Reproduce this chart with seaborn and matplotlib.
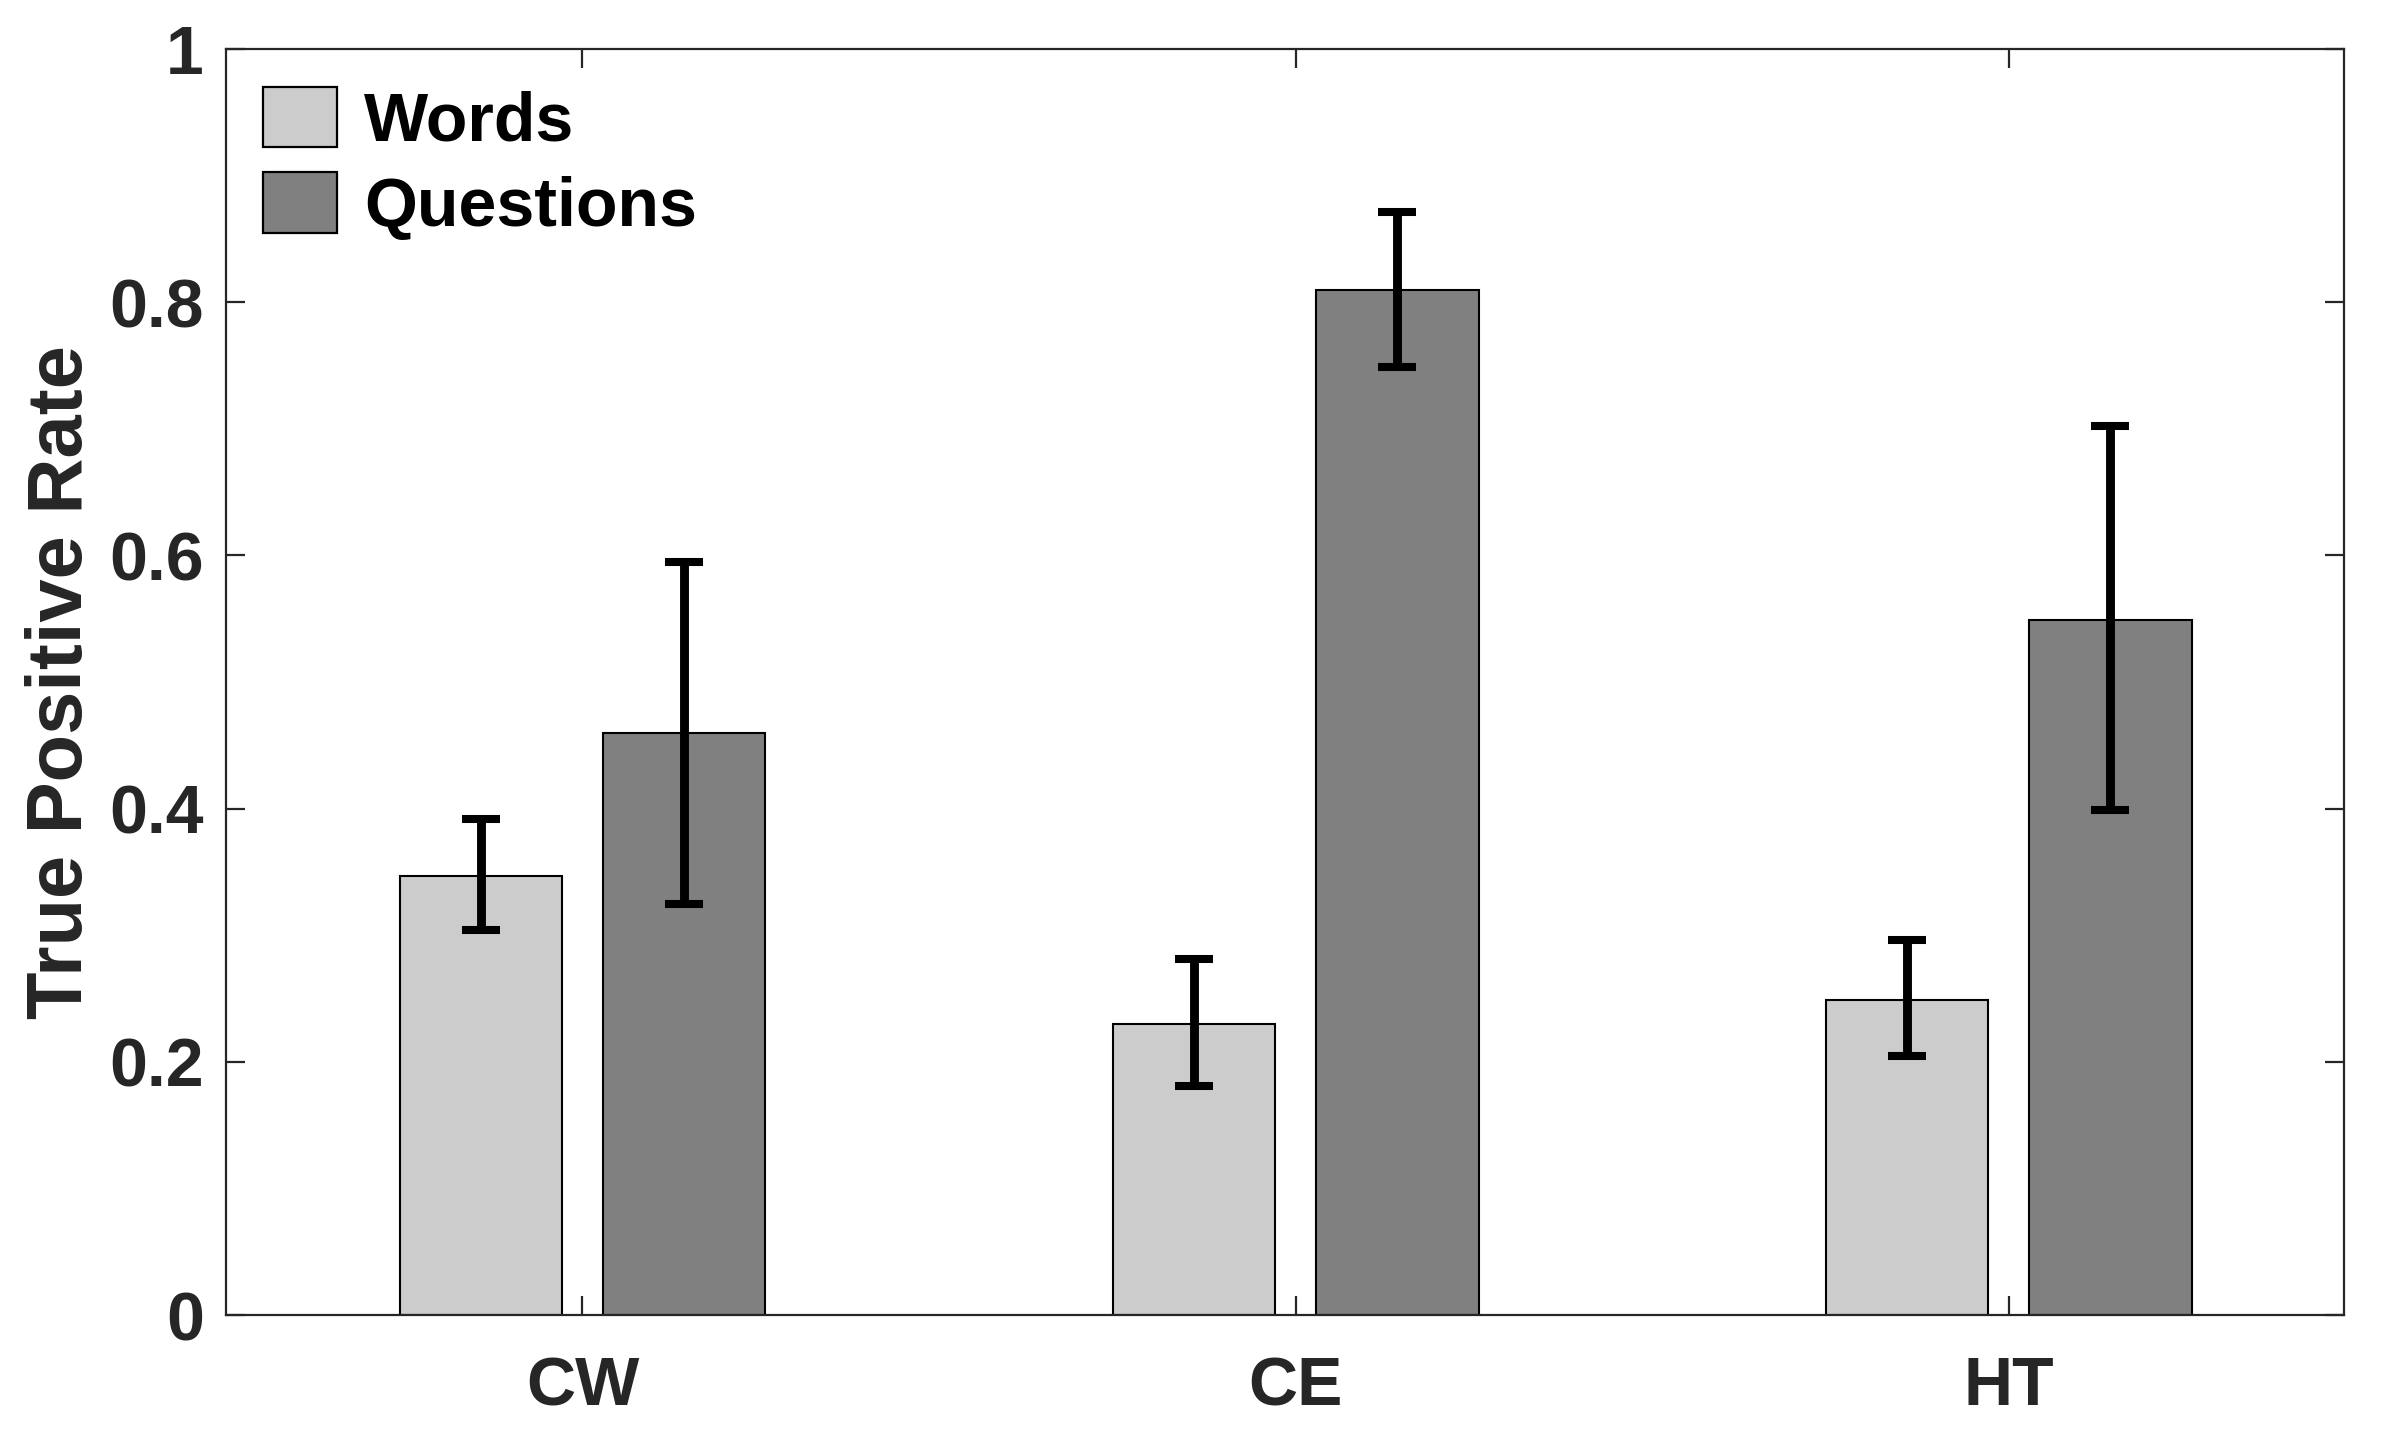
import numpy as np
import pandas as pd
import matplotlib
matplotlib.use("Agg")
import matplotlib.pyplot as plt
import seaborn as sns

# values
conditions = ["CW", "CE", "HT"]
series = ["Words", "Questions"]
words_tpr = [0.347, 0.230, 0.249]
questions_tpr = [0.460, 0.810, 0.549]
words_err_low = [0.304, 0.181, 0.205]
words_err_high = [0.392, 0.281, 0.296]
questions_err_low = [0.325, 0.749, 0.399]
questions_err_high = [0.595, 0.871, 0.702]
y_ticks = [0, 0.2, 0.4, 0.6, 0.8, 1]
y_tick_labels = ["0", "0.2", "0.4", "0.6", "0.8", "1"]

df = pd.DataFrame({
    "Condition": conditions * 2,
    "Type": ["Words"] * 3 + ["Questions"] * 3,
    "TPR": words_tpr + questions_tpr,
    "low": words_err_low + questions_err_low,
    "high": words_err_high + questions_err_high,
})

sns.set_theme(style="white")
plt.rcParams["font.family"] = ["Liberation Sans", "DejaVu Sans"]
plt.rcParams["font.weight"] = "bold"

fig, ax = plt.subplots(figsize=(11.965, 7.22), dpi=200)
fig.subplots_adjust(left=0.0944, right=0.9795, bottom=0.0893, top=0.966)

sns.barplot(
    data=df, x="Condition", y="TPR", hue="Type", order=conditions,
    hue_order=series, palette=["#cccccc", "#808080"], width=0.57, gap=0.2,
    edgecolor="black", linewidth=0.75, errorbar=None, saturation=1, ax=ax,
)

# error bars placed on the bar centres seaborn computed
for patch, (_, row) in zip(ax.patches, df.iterrows()):
    cx = patch.get_x() + patch.get_width() / 2
    ax.errorbar(
        cx, row["TPR"],
        yerr=[[row["TPR"] - row["low"]], [row["high"] - row["TPR"]]],
        fmt="none", ecolor="black", elinewidth=3.2, capsize=6.7, capthick=2.9,
        zorder=5,
    )

ax.set_xlim(-0.5, 2.47)
ax.set_ylim(0, 1)
ax.set_yticks(y_ticks)
ax.set_yticklabels(y_tick_labels)
ax.set_xlabel("")
ax.set_ylabel("True Positive Rate", fontsize=28, fontweight="bold",
              color="#262626", labelpad=4)

for side in ["top", "right", "bottom", "left"]:
    ax.spines[side].set_visible(True)
    ax.spines[side].set_color("#262626")
    ax.spines[side].set_linewidth(0.8)

ax.tick_params(axis="both", which="major", direction="in", length=7,
               width=0.8, color="#262626", labelsize=24.5,
               labelcolor="#262626", top=True, right=True, bottom=True,
               left=True, pad=8)
ax.tick_params(axis="x", pad=14.5)
for lab in ax.get_xticklabels() + ax.get_yticklabels():
    lab.set_fontweight("bold")

leg = ax.legend(
    loc="upper left", frameon=False, fontsize=24.5, handlelength=1.08,
    handleheight=1.0, handletextpad=0.4, labelspacing=0.26,
    borderaxespad=0.25, borderpad=0.3,
)
for txt in leg.get_texts():
    txt.set_fontweight("bold")
    txt.set_color("black")
for h in leg.legend_handles:
    h.set_edgecolor("black")
    h.set_linewidth(0.8)

fig.savefig("out.png", dpi=200)
